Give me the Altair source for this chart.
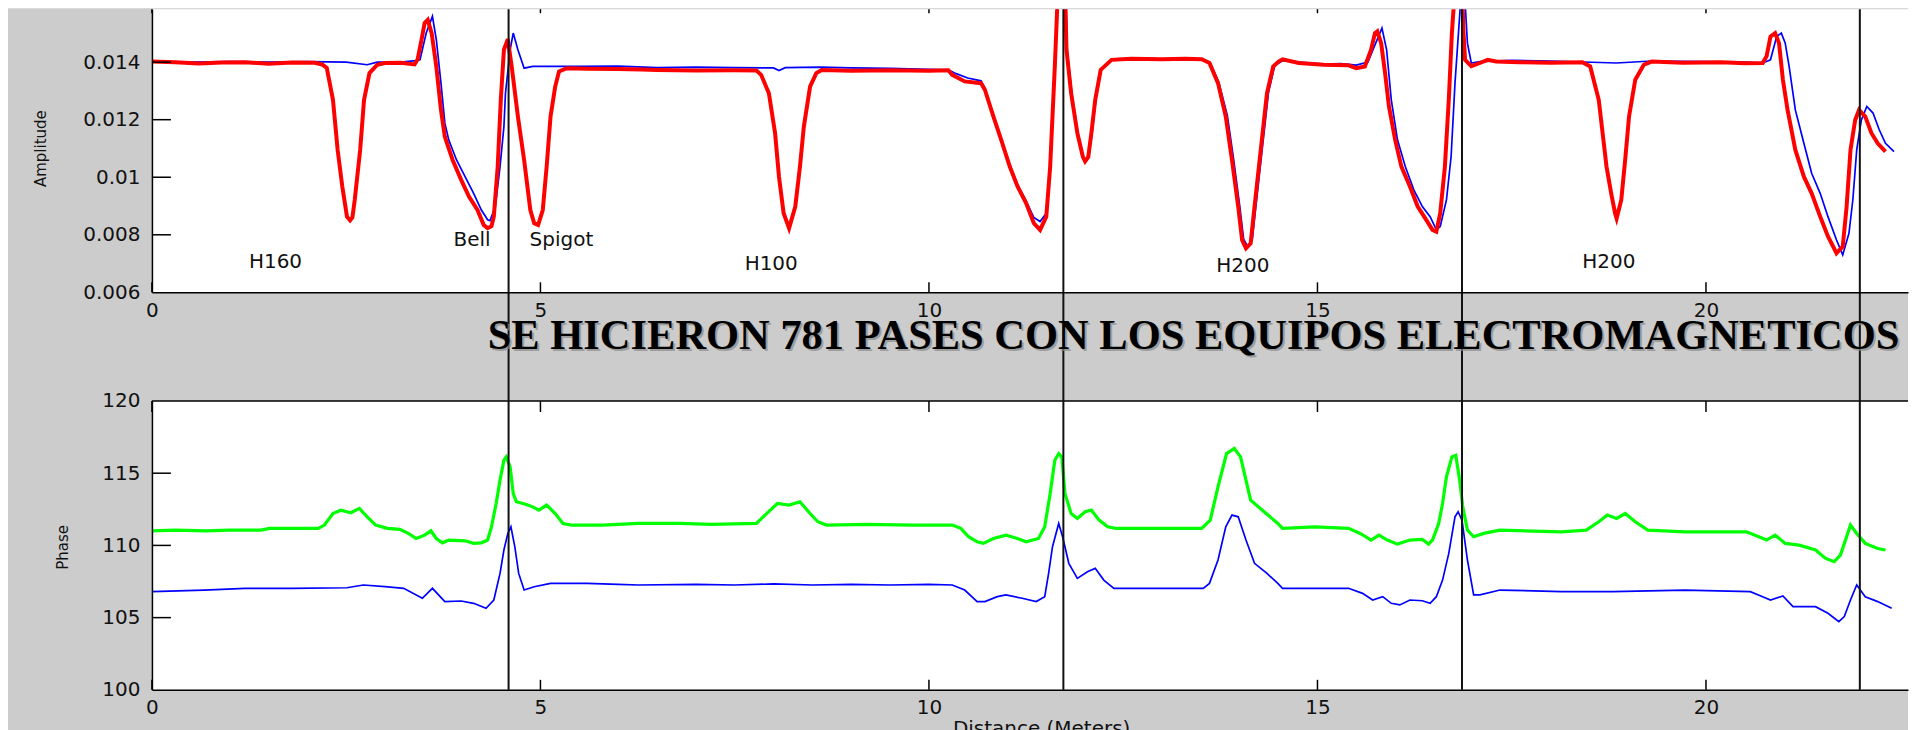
import altair as alt
import pandas as pd

# ---------------- data ----------------
XMAX = 22.6
AMP_DOMAIN = [0.006, 0.01584]
PHASE_DOMAIN = [100, 120]
X_TICKS = [0, 5, 10, 15, 20]
AMP_TICKS = [0.006, 0.008, 0.01, 0.012, 0.014]
PHASE_TICKS = [100, 105, 110, 115, 120]
JOINT_MARKS = [4.59, 11.73, 16.86, 21.98]

amp_red = [
    (0.00, 0.01402), (0.30, 0.01400), (0.60, 0.01395), (0.90, 0.01399), (1.20, 0.01400),
    (1.50, 0.01394), (1.80, 0.01399), (2.10, 0.01398), (2.19, 0.01392), (2.25, 0.01380),
    (2.33, 0.01269), (2.39, 0.01095), (2.45, 0.00968), (2.51, 0.00863), (2.55, 0.00850),
    (2.58, 0.00860), (2.61, 0.00921), (2.68, 0.01095), (2.73, 0.01269), (2.80, 0.01362),
    (2.90, 0.01391), (3.00, 0.01397), (3.20, 0.01398), (3.38, 0.01392), (3.42, 0.01410),
    (3.47, 0.01478), (3.51, 0.01536), (3.55, 0.01547), (3.60, 0.01501), (3.66, 0.01385),
    (3.72, 0.01234), (3.77, 0.01141), (3.87, 0.01060), (3.98, 0.00991), (4.08, 0.00933),
    (4.19, 0.00886), (4.27, 0.00834), (4.32, 0.00823), (4.37, 0.00830), (4.40, 0.00863),
    (4.45, 0.01037), (4.49, 0.01269), (4.53, 0.01443), (4.58, 0.01480), (4.63, 0.01385),
    (4.71, 0.01211), (4.79, 0.01060), (4.87, 0.00886), (4.92, 0.00840), (4.97, 0.00834),
    (5.03, 0.00886), (5.08, 0.01037), (5.13, 0.01211), (5.19, 0.01315), (5.24, 0.01368),
    (5.34, 0.01379), (5.60, 0.01377), (6.00, 0.01376), (6.30, 0.01374), (6.50, 0.01373),
    (7.00, 0.01371), (7.50, 0.01372), (7.78, 0.01371), (7.84, 0.01356), (7.94, 0.01292),
    (8.02, 0.01153), (8.07, 0.01002), (8.13, 0.00875), (8.20, 0.00823), (8.28, 0.00898),
    (8.34, 0.01037), (8.39, 0.01176), (8.47, 0.01315), (8.55, 0.01362), (8.62, 0.01373),
    (9.00, 0.01370), (9.50, 0.01372), (10.00, 0.01370), (10.25, 0.01372), (10.30, 0.01356),
    (10.46, 0.01333), (10.67, 0.01327), (10.72, 0.01304), (10.83, 0.01211), (10.93, 0.01130),
    (11.04, 0.01037), (11.14, 0.00968), (11.25, 0.00910), (11.35, 0.00840), (11.43, 0.00817),
    (11.51, 0.00863), (11.56, 0.01037), (11.62, 0.01385), (11.66, 0.01650), (11.70, 0.01800),
    (11.74, 0.01780), (11.77, 0.01443), (11.83, 0.01292), (11.91, 0.01153), (11.98, 0.01072),
    (12.01, 0.01055), (12.05, 0.01070), (12.09, 0.01153), (12.14, 0.01269), (12.21, 0.01373),
    (12.35, 0.01408), (12.60, 0.01412), (13.00, 0.01410), (13.30, 0.01412), (13.51, 0.01410),
    (13.61, 0.01397), (13.72, 0.01327), (13.82, 0.01211), (13.90, 0.01060), (13.98, 0.00898),
    (14.03, 0.00782), (14.08, 0.00753), (14.14, 0.00770), (14.19, 0.00898), (14.27, 0.01095),
    (14.35, 0.01292), (14.43, 0.01385), (14.50, 0.01402), (14.55, 0.01410), (14.76, 0.01397),
    (15.08, 0.01391), (15.40, 0.01389), (15.50, 0.01379), (15.61, 0.01385), (15.69, 0.01443),
    (15.74, 0.01501), (15.77, 0.01507), (15.82, 0.01466), (15.87, 0.01362), (15.92, 0.01246),
    (16.00, 0.01130), (16.08, 0.01037), (16.19, 0.00968), (16.29, 0.00898), (16.40, 0.00852),
    (16.48, 0.00817), (16.53, 0.00811), (16.58, 0.00875), (16.64, 0.01037), (16.69, 0.01269),
    (16.73, 0.01501), (16.77, 0.01660), (16.81, 0.01800), (16.85, 0.01750), (16.88, 0.01500),
    (16.90, 0.01408), (16.98, 0.01386), (17.09, 0.01397), (17.19, 0.01408), (17.30, 0.01402),
    (17.60, 0.01400), (18.00, 0.01398), (18.41, 0.01400), (18.51, 0.01385), (18.62, 0.01269),
    (18.67, 0.01153), (18.72, 0.01037), (18.78, 0.00944), (18.83, 0.00875), (18.85, 0.00857),
    (18.91, 0.00921), (18.96, 0.01060), (19.01, 0.01211), (19.09, 0.01339), (19.20, 0.01391),
    (19.30, 0.01402), (19.70, 0.01398), (20.20, 0.01400), (20.50, 0.01396), (20.73, 0.01397),
    (20.78, 0.01420), (20.83, 0.01489), (20.89, 0.01501), (20.94, 0.01466), (20.99, 0.01339),
    (21.05, 0.01234), (21.15, 0.01095), (21.26, 0.01002), (21.36, 0.00944), (21.47, 0.00863),
    (21.57, 0.00794), (21.68, 0.00736), (21.76, 0.00759), (21.81, 0.00898), (21.86, 0.01095),
    (21.92, 0.01199), (21.97, 0.01234), (22.05, 0.01211), (22.13, 0.01153), (22.21, 0.01118),
    (22.31, 0.01089),
]

amp_blue = [
    (0.00, 0.01402), (0.50, 0.01400), (1.00, 0.01402), (1.50, 0.01400), (2.00, 0.01402),
    (2.50, 0.01400), (2.77, 0.01391), (2.90, 0.01400), (3.20, 0.01400), (3.40, 0.01405),
    (3.45, 0.01408), (3.53, 0.01501), (3.61, 0.01559), (3.66, 0.01478), (3.72, 0.01327),
    (3.77, 0.01188), (3.82, 0.01130), (3.92, 0.01060), (4.03, 0.01002), (4.14, 0.00944),
    (4.24, 0.00886), (4.32, 0.00852), (4.35, 0.00849), (4.42, 0.00898), (4.48, 0.01037),
    (4.53, 0.01176), (4.55, 0.01292), (4.61, 0.01443), (4.65, 0.01501), (4.71, 0.01443),
    (4.79, 0.01379), (4.90, 0.01385), (5.50, 0.01385), (6.00, 0.01386), (6.50, 0.01381),
    (7.00, 0.01383), (7.50, 0.01381), (8.00, 0.01380), (8.07, 0.01371), (8.15, 0.01381),
    (8.60, 0.01383), (9.00, 0.01380), (9.50, 0.01378), (10.00, 0.01375), (10.25, 0.01373),
    (10.35, 0.01360), (10.50, 0.01345), (10.67, 0.01335), (10.72, 0.01310), (10.83, 0.01215),
    (10.93, 0.01135), (11.04, 0.01045), (11.14, 0.00975), (11.25, 0.00918), (11.35, 0.00860),
    (11.43, 0.00846), (11.51, 0.00875), (11.56, 0.01040), (11.62, 0.01390), (11.66, 0.01650),
    (11.71, 0.01800), (11.75, 0.01750), (11.78, 0.01440), (11.84, 0.01290), (11.92, 0.01150),
    (11.99, 0.01070), (12.02, 0.01058), (12.06, 0.01075), (12.10, 0.01155), (12.15, 0.01275),
    (12.22, 0.01375), (12.35, 0.01410), (13.00, 0.01411), (13.50, 0.01410), (13.62, 0.01397),
    (13.73, 0.01330), (13.84, 0.01215), (13.92, 0.01065), (14.00, 0.00900), (14.05, 0.00785),
    (14.10, 0.00760), (14.16, 0.00780), (14.21, 0.00905), (14.29, 0.01100), (14.37, 0.01295),
    (14.45, 0.01388), (14.55, 0.01405), (14.76, 0.01400), (15.08, 0.01393), (15.30, 0.01395),
    (15.50, 0.01390), (15.65, 0.01400), (15.74, 0.01460), (15.83, 0.01518), (15.89, 0.01443),
    (15.95, 0.01269), (16.03, 0.01130), (16.13, 0.01037), (16.24, 0.00956), (16.35, 0.00898),
    (16.45, 0.00863), (16.53, 0.00817), (16.58, 0.00829), (16.66, 0.00921), (16.72, 0.01072),
    (16.77, 0.01327), (16.84, 0.01600), (16.87, 0.01750), (16.93, 0.01466), (16.98, 0.01397),
    (17.09, 0.01402), (17.50, 0.01406), (18.00, 0.01404), (18.85, 0.01397), (19.30, 0.01404),
    (20.00, 0.01402), (20.50, 0.01400), (20.73, 0.01397), (20.83, 0.01408), (20.91, 0.01489),
    (20.97, 0.01501), (21.02, 0.01466), (21.07, 0.01385), (21.15, 0.01234), (21.26, 0.01118),
    (21.36, 0.01014), (21.47, 0.00944), (21.57, 0.00863), (21.68, 0.00782), (21.76, 0.00730),
    (21.84, 0.00805), (21.89, 0.00921), (21.94, 0.01095), (22.00, 0.01199), (22.07, 0.01246),
    (22.15, 0.01223), (22.23, 0.01165), (22.31, 0.01118), (22.42, 0.01089),
]

phase_green = [
    (0.00, 111.01), (0.30, 111.06), (0.70, 111.01), (1.00, 111.06), (1.41, 111.06),
    (1.51, 111.18), (1.90, 111.18), (2.14, 111.18), (2.22, 111.41), (2.33, 112.21),
    (2.43, 112.44), (2.56, 112.26), (2.67, 112.56), (2.77, 111.98), (2.88, 111.41),
    (3.03, 111.18), (3.19, 111.11), (3.30, 110.83), (3.40, 110.48), (3.51, 110.71),
    (3.59, 111.01), (3.66, 110.48), (3.74, 110.18), (3.82, 110.37), (4.03, 110.32),
    (4.14, 110.14), (4.24, 110.18), (4.32, 110.37), (4.37, 111.29), (4.43, 112.90),
    (4.48, 114.52), (4.53, 115.90), (4.56, 116.13), (4.61, 115.44), (4.65, 113.59),
    (4.69, 113.02), (4.82, 112.83), (4.90, 112.67), (4.98, 112.44), (5.08, 112.79),
    (5.19, 112.21), (5.29, 111.52), (5.40, 111.41), (5.80, 111.41), (6.26, 111.52),
    (6.79, 111.52), (7.20, 111.45), (7.78, 111.52), (7.89, 112.10), (8.05, 112.90),
    (8.20, 112.79), (8.34, 113.02), (8.47, 112.21), (8.57, 111.64), (8.68, 111.41),
    (9.20, 111.45), (9.80, 111.41), (10.30, 111.41), (10.41, 111.18), (10.51, 110.60),
    (10.62, 110.25), (10.70, 110.14), (10.83, 110.48), (10.99, 110.71), (11.14, 110.48),
    (11.25, 110.25), (11.41, 110.48), (11.49, 111.29), (11.56, 113.59), (11.62, 115.90),
    (11.67, 116.36), (11.71, 116.13), (11.75, 113.59), (11.83, 112.21), (11.91, 111.87),
    (12.01, 112.33), (12.09, 112.44), (12.19, 111.75), (12.30, 111.29), (12.40, 111.18),
    (13.00, 111.18), (13.51, 111.18), (13.62, 111.75), (13.72, 114.06), (13.83, 116.36),
    (13.93, 116.71), (14.01, 116.13), (14.08, 114.52), (14.14, 113.13), (14.29, 112.44),
    (14.49, 111.52), (14.55, 111.18), (14.97, 111.29), (15.40, 111.18), (15.55, 110.83),
    (15.69, 110.37), (15.79, 110.71), (15.90, 110.37), (16.03, 110.09), (16.19, 110.37),
    (16.35, 110.41), (16.43, 110.09), (16.48, 110.37), (16.56, 111.52), (16.61, 112.90),
    (16.66, 114.75), (16.73, 116.13), (16.78, 116.24), (16.83, 114.52), (16.87, 112.67),
    (16.93, 111.06), (17.01, 110.60), (17.14, 110.83), (17.35, 111.06), (18.14, 110.94),
    (18.46, 111.06), (18.62, 111.64), (18.73, 112.10), (18.85, 111.87), (18.96, 112.21),
    (19.09, 111.64), (19.25, 111.06), (19.73, 110.94), (20.52, 110.94), (20.68, 110.60),
    (20.78, 110.37), (20.89, 110.71), (21.02, 110.14), (21.20, 110.02), (21.41, 109.68),
    (21.54, 109.10), (21.65, 108.87), (21.73, 109.33), (21.81, 110.60), (21.86, 111.41),
    (21.94, 110.83), (22.05, 110.14), (22.21, 109.79), (22.31, 109.68),
]

phase_blue = [
    (0.00, 106.80), (0.67, 106.91), (1.20, 107.03), (1.80, 107.03), (2.51, 107.07),
    (2.72, 107.26), (3.00, 107.15), (3.24, 107.03), (3.48, 106.34), (3.61, 107.03),
    (3.77, 106.11), (3.98, 106.15), (4.14, 105.99), (4.30, 105.65), (4.40, 106.22),
    (4.48, 108.06), (4.53, 109.68), (4.58, 110.83), (4.62, 111.29), (4.67, 109.91),
    (4.72, 108.06), (4.79, 106.91), (4.92, 107.14), (5.13, 107.37), (5.60, 107.37),
    (6.00, 107.30), (6.26, 107.26), (7.00, 107.30), (7.50, 107.26), (8.00, 107.33),
    (8.50, 107.26), (9.00, 107.30), (9.50, 107.26), (10.00, 107.30), (10.30, 107.26),
    (10.46, 106.91), (10.62, 106.11), (10.72, 106.11), (10.88, 106.45), (10.99, 106.57),
    (11.20, 106.34), (11.38, 106.11), (11.49, 106.45), (11.54, 108.06), (11.59, 109.91),
    (11.67, 111.52), (11.72, 110.60), (11.80, 108.76), (11.91, 107.72), (12.04, 108.18),
    (12.14, 108.41), (12.25, 107.60), (12.38, 107.03), (13.00, 107.03), (13.53, 107.03),
    (13.61, 107.37), (13.72, 108.99), (13.82, 111.29), (13.90, 112.10), (13.98, 111.98),
    (14.08, 110.37), (14.19, 108.76), (14.35, 108.06), (14.49, 107.37), (14.55, 107.03),
    (14.97, 107.03), (15.40, 107.03), (15.58, 106.68), (15.71, 106.22), (15.84, 106.45),
    (15.95, 105.99), (16.06, 105.88), (16.19, 106.22), (16.35, 106.17), (16.45, 105.99),
    (16.53, 106.45), (16.61, 107.60), (16.69, 109.45), (16.77, 111.98), (16.81, 112.33),
    (16.86, 111.75), (16.93, 108.99), (17.01, 106.57), (17.09, 106.57), (17.35, 106.91),
    (18.14, 106.80), (18.80, 106.80), (19.73, 106.91), (20.57, 106.80), (20.73, 106.45),
    (20.83, 106.22), (20.99, 106.50), (21.12, 105.76), (21.41, 105.76), (21.57, 105.30),
    (21.71, 104.72), (21.78, 105.07), (21.86, 106.22), (21.94, 107.26), (22.05, 106.45),
    (22.21, 106.11), (22.39, 105.65),
]

amp_notes = [
    ("H160", 1.59, 0.00704), ("Bell", 4.12, 0.00782), ("Spigot", 5.27, 0.00782),
    ("H100", 7.97, 0.00699), ("H200", 14.04, 0.00693), ("H200", 18.75, 0.00704),
]

TITLE = "SE HICIERON 781 PASES CON LOS EQUIPOS ELECTROMAGNETICOS"
AMP_TITLE = "Amplitude"
PHASE_TITLE = "Phase"
X_TITLE = "Distance (Meters)"

# ---------------- layout / style ----------------
W = 1757          # plot width (pixels)
H = 681           # total height from top of upper panel to bottom of lower panel
TOP_H = 283.3     # lower edge of upper panel
BOT_TOP = 392     # upper edge of lower panel
GRAY = "#cccccc"
FONT = "DejaVu Sans"
LBL = 20

def df(pairs, cols=("d", "v")):
    return pd.DataFrame(pairs, columns=list(cols))

# scales
xs = alt.Scale(domain=[0, XMAX], nice=False, zero=False)
ys_top = alt.Scale(domain=AMP_DOMAIN, range=[TOP_H, 0], nice=False, zero=False)
ys_bot = alt.Scale(domain=PHASE_DOMAIN, range=[H, BOT_TOP], nice=False, zero=False)

common_axis = dict(grid=False, ticks=False, tickSize=0, domainColor="black", domainWidth=1.5,
                   labelFont=FONT, labelFontSize=LBL, labelColor="#111111",
                   labelFlush=False, labelOverlap=False, zindex=2)

x_axis_top = alt.Axis(orient="bottom", offset=-(H - TOP_H), values=X_TICKS, labelPadding=8,
                      title=None, **common_axis)
x_axis_bot = alt.Axis(orient="bottom", values=X_TICKS, labelPadding=8, title=X_TITLE,
                      titleX=889.7, titleY=29, titleAlign="center", titleBaseline="top",
                      titleFont=FONT, titleFontSize=20, titleFontWeight="normal",
                      titleColor="#111111", **common_axis)
y_axis_top = alt.Axis(orient="left", values=AMP_TICKS, format="~g", labelPadding=12,
                      title=AMP_TITLE, titleX=-111, titleY=139, titleAngle=270,
                      titleAlign="center", titleBaseline="middle", titleFont=FONT,
                      titleFontSize=15, titleFontWeight="normal", titleColor="#111111",
                      **common_axis)
y_axis_bot = alt.Axis(orient="left", values=PHASE_TICKS, format="d", labelPadding=12,
                      title=PHASE_TITLE, titleX=-89, titleY=538, titleAngle=270,
                      titleAlign="center", titleBaseline="middle", titleFont=FONT,
                      titleFontSize=15, titleFontWeight="normal", titleColor="#111111",
                      **common_axis)

def XT(f):
    return alt.X(f, type="quantitative", scale=xs, axis=x_axis_top)

def YT(f):
    return alt.Y(f, type="quantitative", scale=ys_top, axis=y_axis_top)

def XB(f):
    return alt.X(f, type="quantitative", scale=xs, axis=x_axis_bot)

def YB(f):
    return alt.Y(f, type="quantitative", scale=ys_bot, axis=y_axis_bot)

# ---------------- upper panel (amplitude) ----------------
figure_bg = alt.Chart(pd.DataFrame({"a": [0]})).mark_rect(color=GRAY).encode(
    x=alt.value(-144), x2=alt.value(W), y=alt.value(-1), y2=alt.value(730))

top_bg = alt.Chart(pd.DataFrame({"x0": [0], "x1": [XMAX], "y0": [AMP_DOMAIN[0]], "y1": [AMP_DOMAIN[1]]})
                   ).mark_rect(color="white").encode(x=XT("x0"), x2="x1", y=YT("y0"), y2="y1")

amp_blue_line = alt.Chart(df(amp_blue)).mark_line(color="#0000ff", strokeWidth=1.7, clip=True).encode(
    x=XT("d"), y=YT("v"))
amp_red_line = alt.Chart(df(amp_red)).mark_line(color="#ff0000", strokeWidth=4, clip=True).encode(
    x=XT("d"), y=YT("v"))

notes = alt.Chart(pd.DataFrame(amp_notes, columns=["t", "d", "v"])).mark_text(
    font=FONT, fontSize=LBL, color="#111111", align="center", baseline="middle").encode(
    x=XT("d"), y=YT("v"), text="t:N")

tick_df = pd.DataFrame({"d": X_TICKS})
top_xticks_bottom = alt.Chart(tick_df).mark_rule(color="black", strokeWidth=1.5).encode(
    x=XT("d"), y=alt.value(TOP_H - 10), y2=alt.value(TOP_H))
top_xticks_top = alt.Chart(tick_df).mark_rule(color="black", strokeWidth=1.5).encode(
    x=XT("d"), y=alt.value(0), y2=alt.value(4))
top_yticks = alt.Chart(pd.DataFrame({"v": AMP_TICKS[1:]})).mark_rule(color="black", strokeWidth=1.5).encode(
    y=YT("v"), x=alt.value(0), x2=alt.value(19))

top_panel = alt.layer(figure_bg, top_bg, amp_blue_line, amp_red_line, notes,
                      top_xticks_bottom, top_xticks_top, top_yticks)

# ---------------- lower panel (phase) ----------------
bot_bg = alt.Chart(pd.DataFrame({"x0": [0], "x1": [XMAX], "y0": [PHASE_DOMAIN[0]], "y1": [PHASE_DOMAIN[1]]})
                   ).mark_rect(color="white").encode(x=XB("x0"), x2="x1", y=YB("y0"), y2="y1")
ph_green_line = alt.Chart(df(phase_green)).mark_line(color="#00ff00", strokeWidth=3.2, clip=True).encode(
    x=XB("d"), y=YB("v"))
ph_blue_line = alt.Chart(df(phase_blue)).mark_line(color="#0000ff", strokeWidth=1.7, clip=True).encode(
    x=XB("d"), y=YB("v"))
bot_border = alt.Chart(pd.DataFrame({"v": [PHASE_DOMAIN[1]]})).mark_rule(color="black", strokeWidth=1.5).encode(
    y=YB("v"), x=alt.value(0), x2=alt.value(W))
bot_xticks_top = alt.Chart(tick_df).mark_rule(color="black", strokeWidth=1.5).encode(
    x=XB("d"), y=alt.value(BOT_TOP), y2=alt.value(BOT_TOP + 11))
bot_xticks_bottom = alt.Chart(tick_df).mark_rule(color="black", strokeWidth=1.5).encode(
    x=XB("d"), y=alt.value(H - 10), y2=alt.value(H))
bot_yticks = alt.Chart(pd.DataFrame({"v": PHASE_TICKS[1:-1]})).mark_rule(color="black", strokeWidth=1.5).encode(
    y=YB("v"), x=alt.value(0), x2=alt.value(19))
joints = alt.Chart(pd.DataFrame({"d": JOINT_MARKS})).mark_rule(color="#111111", strokeWidth=2).encode(
    x=XB("d"), y=alt.value(0), y2=alt.value(H))

bottom_panel = alt.layer(bot_bg, ph_green_line, ph_blue_line, bot_border,
                         bot_xticks_top, bot_xticks_bottom, bot_yticks, joints)

# ---------------- banner title ----------------
title_df = pd.DataFrame({"t": [TITLE]})
title_shadow = alt.Chart(title_df).mark_text(
    font="Liberation Serif", fontSize=42.5, fontWeight="bold", color="#8a8a8a", opacity=0.7,
    align="left", baseline="alphabetic").encode(text="t:N", x=alt.value(338), y=alt.value(342))
title_text = alt.Chart(title_df).mark_text(
    font="Liberation Serif", fontSize=42.5, fontWeight="bold", color="black",
    align="left", baseline="alphabetic").encode(text="t:N", x=alt.value(336), y=alt.value(340))

chart = alt.layer(top_panel, bottom_panel, title_shadow, title_text).resolve_scale(
    x="independent", y="independent").properties(
    width=W, height=H, padding=0).configure_view(stroke=None)

chart.save("out.html", embed_options={"renderer": "svg", "actions": False})
